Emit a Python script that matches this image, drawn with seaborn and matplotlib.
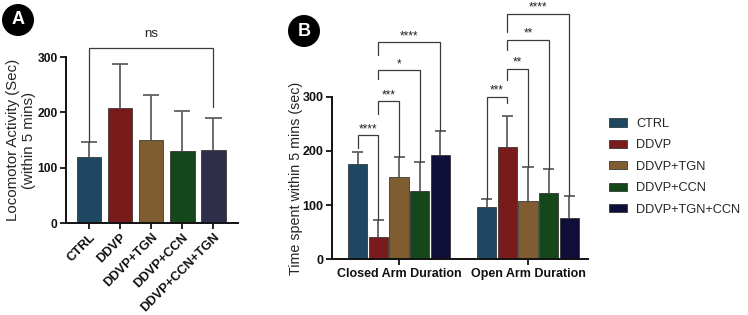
import numpy as np
import pandas as pd
import matplotlib
matplotlib.use("Agg")
import matplotlib.pyplot as plt
import seaborn as sns
from matplotlib.patches import Circle

sns.set_theme(style="ticks")
plt.rcParams['font.family'] = ['Liberation Sans', 'DejaVu Sans']

# ---------------- data ----------------
groups_a = ["CTRL", "DDVP", "DDVP+TGN", "DDVP+CCN", "DDVP+CCN+TGN"]
means_a = [119, 208, 150, 131, 132]
upper_a = [147, 288, 232, 203, 190]
colors_a = ["#134b6c", "#8a0b0b", "#8c5e24", "#0c4f12", "#2c2a50"]

arms_b = ["Closed Arm Duration", "Open Arm Duration"]
groups_b = ["CTRL", "DDVP", "DDVP+TGN", "DDVP+CCN", "DDVP+TGN+CCN"]
closed_means = [176, 41, 151, 126, 193]
closed_upper = [198, 72, 188, 180, 237]
open_means = [97, 208, 108, 122, 77]
open_upper = [111, 264, 170, 167, 116]
colors_b = ["#134b6c", "#8a0b0b", "#8c5e24", "#0c4f12", "#07073f"]

yticks = [0, 100, 200, 300]

# ---------------- figure ----------------
W, H = 748, 315
fig = plt.figure(figsize=(W / 100, H / 100), dpi=100)

def fr(x0, y_top, x1, y_bot):
    return [x0 / W, 1 - y_bot / H, (x1 - x0) / W, (y_bot - y_top) / H]

axA = fig.add_axes(fr(66, 57, 238, 223))
axB = fig.add_axes(fr(332, 96.7, 588, 259.3))

err_color = "#606060"
br_color = "#3a3a3a"

def upper_err(ax, xs, lo, hi, cw):
    ax.vlines(xs, lo, hi, color=err_color, lw=1.3, zorder=0.5)
    ax.hlines(hi, np.array(xs) - cw, np.array(xs) + cw, color=err_color, lw=1.3, zorder=0.5)

# ---- panel A ----
df_a = pd.DataFrame({"group": groups_a, "value": means_a})
sns.barplot(data=df_a, x="group", y="value", hue="group", palette=colors_a,
            order=groups_a, hue_order=groups_a, errorbar=None, width=0.8,
            edgecolor="#222222", linewidth=0.5, legend=False, ax=axA)
xa = np.arange(len(groups_a))
upper_err(axA, xa, means_a, upper_a, 0.27)
axA.set_xlim(-0.74, 4.8)
axA.set_ylim(0, 300)
axA.set_yticks(yticks)
axA.set_xlabel("")
axA.set_ylabel("Locomotor Activity (Sec)\n(within 5 mins)", fontsize=10.8,
               linespacing=1.2)
axA.yaxis.set_label_coords(-0.172, 0.5)
axA.set_xticks(xa)
axA.set_xticklabels(groups_a, rotation=45, ha="right", rotation_mode="anchor",
                    fontsize=9.3, fontweight="bold")
for t in axA.get_yticklabels():
    t.set_fontweight("bold"); t.set_fontsize(8.7)

def bracket(ax, x1, x2, y, yl, yr, text, ty, fs=8.5):
    ax.plot([x1, x1, x2, x2], [yl, y, y, yr], color=br_color, lw=0.9,
            clip_on=False, zorder=5, solid_joinstyle="miter")
    ax.text((x1 + x2) / 2, ty, text, ha="center", va="center", fontsize=fs,
            color="#222222", clip_on=False)

bracket(axA, 0, 4, 316, 147, 210, "ns", 342, fs=9.5)

# ---- panel B ----
df_b = pd.DataFrame({
    "arm": [arms_b[0]] * 5 + [arms_b[1]] * 5,
    "group": groups_b * 2,
    "value": closed_means + open_means,
})
sns.barplot(data=df_b, x="arm", y="value", hue="group", order=arms_b,
            hue_order=groups_b, palette=colors_b, errorbar=None, width=0.8,
            gap=0.06, edgecolor="#222222", linewidth=0.5, ax=axB)

pos = {}
for gi, cont in enumerate(axB.containers):
    for ai, bar in enumerate(cont):
        pos[(ai, gi)] = bar.get_x() + bar.get_width() / 2

uppers = [closed_upper, open_upper]
means = [closed_means, open_means]
for ai in range(2):
    xs = [pos[(ai, gi)] for gi in range(5)]
    upper_err(axB, xs, means[ai], uppers[ai], 0.043)

axB.set_xlim(-0.52, 1.465)
axB.set_ylim(0, 300)
axB.set_yticks(yticks)
axB.set_xlabel("")
axB.set_ylabel("Time spent within 5 mins (sec)", fontsize=10.3)
axB.yaxis.set_label_coords(-0.113, 0.5)
for t in axB.get_xticklabels():
    t.set_fontweight("bold"); t.set_fontsize(9)
for t in axB.get_yticklabels():
    t.set_fontweight("bold"); t.set_fontsize(9)

# closed brackets
bracket(axB, pos[(0, 0)], pos[(0, 1)], 229, 205, 72, "****", 240)
bracket(axB, pos[(0, 1)], pos[(0, 2)], 292, 268, 188, "***", 303)
bracket(axB, pos[(0, 1)], pos[(0, 3)], 349, 332, 180, "*", 360)
bracket(axB, pos[(0, 1)], pos[(0, 4)], 401, 377, 237, "****", 412)
# open brackets
bracket(axB, pos[(1, 0)], pos[(1, 1)], 300, 111, 288, "***", 311)
bracket(axB, pos[(1, 1)], pos[(1, 2)], 352, 331, 170, "**", 363)
bracket(axB, pos[(1, 1)], pos[(1, 3)], 405, 386, 167, "**", 416)
bracket(axB, pos[(1, 1)], pos[(1, 4)], 453, 420, 116, "****", 464)

# legend
handles, labels = axB.get_legend_handles_labels()
if axB.legend_:
    axB.legend_.remove()
fig.legend(handles, labels, loc="upper left", bbox_to_anchor=(609 / W, 1 - 118 / H),
           frameon=False, fontsize=9.2, handlelength=1.4, handleheight=0.6,
           labelspacing=0.74, handletextpad=0.75, borderaxespad=0, borderpad=0)

# spines / ticks
for ax in (axA, axB):
    sns.despine(ax=ax)
    for s in ("left", "bottom"):
        ax.spines[s].set_linewidth(1.4)
        ax.spines[s].set_color("#111111")
    ax.tick_params(axis="both", width=1.3, length=4, color="#111111", pad=2, labelcolor="#111111")

# panel labels
for (cx, cy, lab) in [(18, 20, "A"), (304, 31, "B")]:
    fig.patches.append(Circle((cx / 100, (H - cy) / 100), 0.16, transform=fig.dpi_scale_trans,
                              facecolor="black", edgecolor="none"))
    fig.text(cx / W, 1 - cy / H, lab, color="white", fontsize=13, fontweight="bold",
             ha="center", va="center")

fig.savefig("out.png", dpi=100)
